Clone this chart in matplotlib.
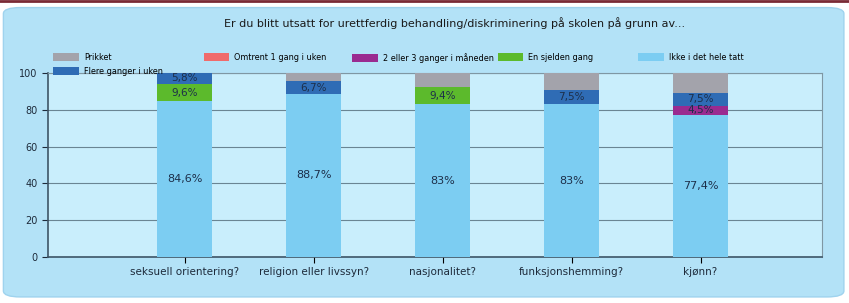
import matplotlib
matplotlib.use("Agg")
import matplotlib.pyplot as plt
from matplotlib.patches import FancyBboxPatch
import numpy as np

title = "Er du blitt utsatt for urettferdig behandling/diskriminering på skolen på grunn av..."
categories = ["seksuell orientering?", "religion eller livssyn?", "nasjonalitet?",
              "funksjonshemming?", "kjønn?"]
# stacked from bottom to top
ikke = [84.6, 88.7, 83.0, 83.0, 77.4]
sjelden = [9.6, 0.0, 9.4, 0.0, 0.0]
maaned = [0.0, 0.0, 0.0, 0.0, 4.5]
uke1 = [0.0, 0.0, 0.0, 0.0, 0.0]
flere = [5.8, 6.7, 0.0, 7.5, 7.5]
prikket = [0.0, 4.6, 7.6, 9.5, 10.6]
yticks = [0, 20, 40, 60, 80, 100]

series = [
    ("Ikke i det hele tatt", ikke, "#7ccdf2", True),
    ("En sjelden gang", sjelden, "#5cba2c", True),
    ("2 eller 3 ganger i måneden", maaned, "#9a2b90", True),
    ("Omtrent 1 gang i uken", uke1, "#f06b6b", True),
    ("Flere ganger i uken", flere, "#2f6cb5", True),
    ("Prikket", prikket, "#a3a3ab", False),
]

def fmt(v):
    s = ("%.1f" % v).rstrip("0").rstrip(".")
    return s.replace(".", ",") + "%"

fig = plt.figure(figsize=(8.49, 3.03), dpi=100)
fig.patch.set_facecolor("#ffffff")
bg = FancyBboxPatch((0.004, 0.02), 0.99, 0.955, boxstyle="round,pad=0,rounding_size=0.02",
                    transform=fig.transFigure, facecolor="#b3e2f7", edgecolor="#9fd3ee",
                    linewidth=1, zorder=-10)
fig.patches.append(bg)
fig.add_artist(plt.Line2D([0, 1], [0.997, 0.997], transform=fig.transFigure,
                          color="#7a2a35", lw=2))

ax = fig.add_axes([0.0565, 0.152, 0.9115, 0.607])
ax.set_facecolor("#c9eefc")
x = np.arange(len(categories))
bottom = np.zeros(len(categories))
handles = {}
for name, vals, color, lab in series:
    vals = np.array(vals)
    b = ax.bar(x, vals, 0.43, bottom=bottom, color=color, zorder=3, label=name)
    handles[name] = b
    if lab:
        for xi, v, bt in zip(x, vals, bottom):
            if v > 0:
                ax.text(xi, bt + v / 2, fmt(v), ha="center", va="center",
                        fontsize=8 if name == "Ikke i det hele tatt" else 7.5,
                        color="#1d2f4a", zorder=4)
    bottom += vals

ax.set_xlim(-1.06, 4.94)
ax.set_ylim(0, 100)
ax.set_yticks(yticks)
ax.set_xticks(x)
ax.set_xticklabels(categories, fontsize=7.5, color="#1d2a3a")
ax.tick_params(axis="y", labelsize=7, colors="#1d2a3a", length=4)
ax.tick_params(axis="x", length=4)
ax.grid(axis="y", color="#6a8593", lw=0.8, zorder=1)
for s in ["left", "bottom"]:
    ax.spines[s].set_color("#3d5566")
    ax.spines[s].set_linewidth(1.2)
for s in ["top", "right"]:
    ax.spines[s].set_color("#7f97a3")
    ax.spines[s].set_linewidth(0.8)

fig.text(0.535, 0.925, title, ha="center", va="center", fontsize=8, color="#1a1a1a")

legend_cols = [
    (0.063, ["Prikket", "Flere ganger i uken"]),
    (0.240, ["Omtrent 1 gang i uken"]),
    (0.415, ["2 eller 3 ganger i måneden"]),
    (0.586, ["En sjelden gang"]),
    (0.752, ["Ikke i det hele tatt"]),
]
prop = {"family": "DejaVu Sans", "stretch": "condensed", "size": 6.5}
for xa, names in legend_cols:
    fig.legend([handles[n] for n in names], names, loc="upper left",
               bbox_to_anchor=(xa, 0.825), frameon=False, prop=prop,
               handlelength=2.8, handleheight=0.9, handletextpad=0.6,
               labelspacing=0.55, borderaxespad=0, borderpad=0)

fig.savefig("out.png", dpi=100)
